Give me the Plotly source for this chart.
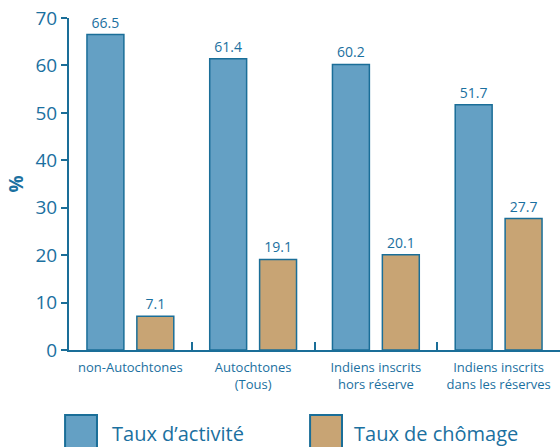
import plotly.graph_objects as go

categories = ["non-Autochtones", "Autochtones<br>(Tous)", "Indiens inscrits<br>hors réserve", "Indiens inscrits<br>dans les réserves"]
taux_activite = [66.5, 61.4, 60.2, 51.7]
taux_chomage = [7.1, 19.1, 20.1, 27.7]
series_names = ["Taux d’activité", "Taux de chômage"]
y_ticks = [0, 10, 20, 30, 40, 50, 60, 70]

TXT = "#1b70a0"
LINE = "#1a6e98"
BLUE = "#64a0c4"
TAN = "#c8a474"
FONT = "Open Sans"

fig = go.Figure()
for name, vals, col in [(series_names[0], taux_activite, BLUE), (series_names[1], taux_chomage, TAN)]:
    fig.add_trace(go.Bar(
        x=categories, y=vals, name=name,
        marker=dict(color=col, line=dict(color=LINE, width=1.5)),
        text=[f"{v:.1f}" for v in vals], textposition="outside",
        textfont=dict(family=FONT, size=14, color=TXT),
        cliponaxis=False, showlegend=False,
    ))

fig.update_layout(
    width=560, height=447,
    margin=dict(l=69, r=0, t=18, b=97),
    paper_bgcolor="white", plot_bgcolor="white",
    barmode="group", bargap=0.187, bargroupgap=0.26,
    font=dict(family=FONT, color=TXT),
    showlegend=False,
)
fig.update_xaxes(
    type="category", showline=True, linecolor=LINE, linewidth=2, automargin=False,
    ticks="inside", tickson="boundaries", ticklen=8, tickcolor=LINE, tickwidth=1.5,
    tickfont=dict(family=FONT, size=13, color=TXT), showgrid=False, ticklabelstandoff=4,
)
fig.update_yaxes(
    range=[0, 70], tickvals=y_ticks, showline=True, linecolor=LINE, linewidth=2, automargin=False,
    ticks="outside", ticklen=6, tickcolor=LINE, tickwidth=1.5,
    tickfont=dict(family=FONT, size=19, color=TXT), showgrid=False, zeroline=False,
    title=dict(text="<b>%</b>", font=dict(family=FONT, size=19, color=TXT), standoff=7),
)

# legend drawn manually with large swatches
for x0, x1, col, tx, name in [(-0.008, 0.057, BLUE, 0.0835, series_names[0]), (0.491, 0.556, TAN, 0.576, series_names[1])]:
    fig.add_shape(type="rect", xref="paper", yref="paper", x0=x0, x1=x1, y0=-0.31, y1=-0.196,
                  fillcolor=col, line=dict(color=LINE, width=2))
    fig.add_annotation(xref="paper", yref="paper", x=tx, y=-0.25, text=name, showarrow=False,
                       xanchor="left", yanchor="middle", font=dict(family=FONT, size=20, color=TXT))

fig.write_html("out.html", config={"displayModeBar": False},
               post_script="document.body.style.margin='0';document.body.style.overflow='hidden';")
